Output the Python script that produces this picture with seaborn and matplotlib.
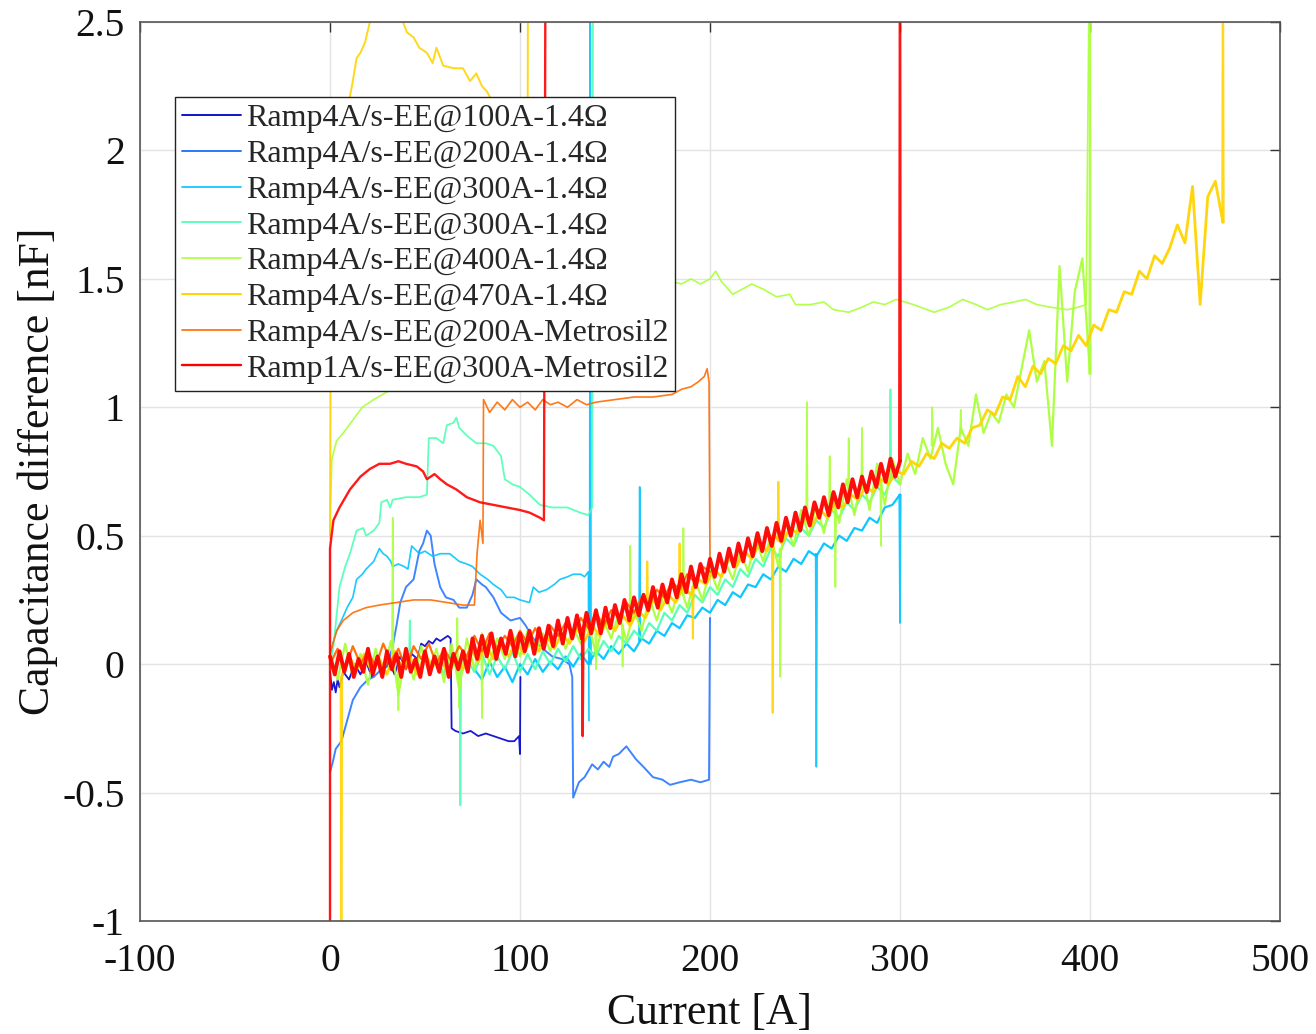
import numpy as np
import pandas as pd
import matplotlib
matplotlib.use("Agg")
import matplotlib.pyplot as plt
import seaborn as sns
from matplotlib.lines import Line2D
from matplotlib.ticker import FuncFormatter

# ---------------- data ----------------
labels = ["Ramp4A/s-EE@100A-1.4Ω", "Ramp4A/s-EE@200A-1.4Ω", "Ramp4A/s-EE@300A-1.4Ω",
          "Ramp4A/s-EE@300A-1.4Ω", "Ramp4A/s-EE@400A-1.4Ω", "Ramp4A/s-EE@470A-1.4Ω",
          "Ramp4A/s-EE@200A-Metrosil2", "Ramp1A/s-EE@300A-Metrosil2"]
colors = ["#0000cc", "#2a78ff", "#00c4ff", "#50ffb4", "#aaff3a", "#ffd400", "#ff6a00", "#ff0000"]

xticks = [-100, 0, 100, 200, 300, 400, 500]
yticks = [-1, -0.5, 0, 0.5, 1, 1.5, 2, 2.5]

# Series 1 (EE@100A)
s1_x = [0, 1, 2, 3, 4, 5, 7, 10, 13, 16, 19, 22, 25, 28, 31, 34, 37, 40, 43, 46,
        48, 50, 52, 54, 56, 58, 60, 62, 63.5, 64, 66, 70, 74, 78, 82, 86, 90, 94, 97, 99.5,
        100, 100.2]
s1_y = [-0.03, -0.10, -0.07, -0.11, -0.06, -0.09, -0.03, -0.06, 0.00, -0.04,
        0.01, -0.05, 0.02, -0.03, 0.01, -0.04, 0.03, -0.02, 0.04, 0.02,
        0.08, 0.07, 0.09, 0.08, 0.10, 0.09, 0.10, 0.11, 0.10, -0.25,
        -0.26, -0.27, -0.26, -0.28, -0.27, -0.28, -0.29, -0.30, -0.30, -0.28,
        -0.35, -0.05]

# Series 2 (EE@200A)
s2_x = [0, 1.5, 3, 6, 9, 12, 16, 20, 23, 27, 30, 33, 35, 37, 40, 44, 47, 49, 51, 53,
        55, 58, 61, 65, 68, 72, 75, 77, 80, 82, 86, 90, 95, 100, 103, 107, 112, 117, 122, 126,
        127.5, 128, 131, 134, 138, 141, 144, 147, 149, 152, 156, 159, 161, 165, 170, 175, 179,
        184, 190, 195, 199.5, 200]
s2_y = [-0.42, -0.38, -0.33, -0.30, -0.22, -0.14, -0.09, -0.06, -0.05, -0.02,
        -0.01, 0.07, 0.15, 0.24, 0.30, 0.33, 0.44, 0.47, 0.52, 0.50,
        0.39, 0.30, 0.26, 0.25, 0.22, 0.22, 0.27, 0.33, 0.31, 0.30,
        0.26, 0.20, 0.17, 0.18, 0.15, 0.10, 0.06, 0.03, 0.02, 0.00,
        -0.05, -0.52, -0.46, -0.44, -0.39, -0.41, -0.38, -0.40, -0.36, -0.35,
        -0.32, -0.35, -0.37, -0.40, -0.44, -0.45, -0.47, -0.46, -0.45, -0.46,
        -0.45, 0.18]

# Series 3 (EE@300A, first)
s3_x = [0, 1.5, 3.5, 6, 9, 12, 14, 17, 19, 23, 26, 28, 30, 32, 33, 36, 39, 41, 43, 47,
        50, 54, 58, 63, 68, 72, 75, 79, 83, 86, 90, 93, 97, 100, 105, 107, 110, 114, 118, 121,
        125, 128, 132, 134, 136, 136.3]
s3_y = [0.00, 0.08, 0.13, 0.17, 0.22, 0.26, 0.33, 0.35, 0.37, 0.40,
        0.45, 0.43, 0.42, 0.40, 0.38, 0.39, 0.38, 0.37, 0.46, 0.43,
        0.44, 0.42, 0.43, 0.43, 0.40, 0.39, 0.38, 0.35, 0.33, 0.31,
        0.29, 0.26, 0.26, 0.25, 0.24, 0.30, 0.28, 0.29, 0.31, 0.33,
        0.34, 0.35, 0.35, 0.34, 0.36, -0.22]
s3_band_x0, s3_band_step = 76, 4
s3_band_y = [-0.02, -0.06, 0.01, -0.05, -0.01, -0.07, 0.00, -0.04, 0.02, -0.03,
             0.01, -0.02, 0.03, -0.01, 0.04, 0.00, 0.05, 0.02, 0.07, 0.04,
             0.08, 0.05, 0.10, 0.08, 0.13, 0.11, 0.16, 0.14, 0.19, 0.18,
             0.22, 0.20, 0.25, 0.23, 0.28, 0.26, 0.31, 0.30, 0.35, 0.33,
             0.38, 0.36, 0.41, 0.39, 0.44, 0.42, 0.47, 0.45, 0.50, 0.48,
             0.53, 0.52, 0.57, 0.55, 0.61, 0.62, 0.66]
s3_spk_x = [137, 163, 256, 300]
s3_spk_base = [0.00, 0.09, 0.43, 0.66]
s3_spk_peak = [3.0, 0.69, -0.40, 0.16]

# Series 4 (EE@300A, second)
s4_x = [0, 1.8, 5, 8, 10.5, 14, 17.5, 19, 23, 26, 27, 30, 31.6, 33, 40, 47, 51, 52, 56, 59.6,
        61.5, 65, 66.5, 68, 72, 77, 82, 86, 90, 92, 96, 100, 105, 110.5, 117, 125, 131.6, 136,
        138, 138.5]
s4_y = [0.00, 0.07, 0.30, 0.38, 0.43, 0.52, 0.53, 0.50, 0.52, 0.55,
        0.63, 0.64, 0.61, 0.64, 0.65, 0.65, 0.66, 0.88, 0.88, 0.86,
        0.93, 0.94, 0.96, 0.92, 0.89, 0.86, 0.86, 0.85, 0.81, 0.72,
        0.70, 0.69, 0.66, 0.62, 0.61, 0.61, 0.59, 0.58, 0.61, 3.0]
s4_band_x0, s4_band_step = 56, 4
s4_band_y = [0.03, -0.04, 0.05, -0.06, 0.02, -0.03, 0.04, -0.04, 0.03, -0.02,
             0.05, -0.03, 0.04, -0.02, 0.05, 0.00, 0.06, 0.01, 0.07, 0.02,
             0.06, 0.03, 0.09, 0.05, 0.11, 0.08, 0.13, 0.10, 0.16, 0.13,
             0.20, 0.17, 0.23, 0.20, 0.27, 0.24, 0.30, 0.27, 0.33, 0.30,
             0.37, 0.34, 0.41, 0.38, 0.45, 0.42, 0.49, 0.46, 0.53, 0.50,
             0.56, 0.53, 0.60, 0.57, 0.63, 0.60, 0.66, 0.63, 0.69, 0.66,
             0.73, 0.70]
s4_spk_x = [42, 68.6, 295]
s4_spk_base = [0.00, 0.00, 0.72]
s4_spk_peak = [0.17, -0.55, 1.07]

# Series 5 (EE@400A)
s5_x = [0, 0.3, 1, 3.5, 7, 12, 17, 23, 30, 45, 70, 100, 130, 155, 175, 180, 185, 190, 195, 200,
        203, 206, 212, 217, 222, 228, 235, 242, 245, 253, 260, 265, 273, 280, 286, 292, 298,
        307, 318, 326, 333, 340, 346, 353, 360, 366, 372, 379, 388, 394, 398, 400]
s5_y = [0.49, 0.62, 0.80, 0.87, 0.90, 0.95, 1.00, 1.03, 1.06, 1.12,
        1.22, 1.32, 1.40, 1.46, 1.48, 1.49, 1.48, 1.50, 1.48, 1.50,
        1.53, 1.49, 1.44, 1.46, 1.48, 1.46, 1.43, 1.44, 1.40, 1.40,
        1.41, 1.38, 1.37, 1.39, 1.41, 1.40, 1.42, 1.40, 1.37, 1.39,
        1.42, 1.40, 1.38, 1.40, 1.41, 1.42, 1.40, 1.39, 1.38, 1.39,
        1.40, 3.0]
s5_band_x0, s5_band_step = 0, 4
s5_band_y = [0.05, -0.06, 0.08, -0.05, 0.04, -0.08, 0.06, -0.04, 0.09, -0.12,
             0.05, -0.06, 0.07, -0.03, 0.06, -0.07, 0.08, -0.10, 0.10, -0.02,
             0.12, 0.00, 0.10, 0.02, 0.12, 0.03, 0.13, 0.04, 0.12, 0.05,
             0.15, 0.06, 0.14, 0.08, 0.16, 0.04, 0.17, 0.10, 0.20, 0.09,
             0.21, 0.13, 0.26, 0.17, 0.28, 0.20, 0.31, 0.22, 0.33, 0.25,
             0.37, 0.29, 0.40, 0.33, 0.44, 0.36, 0.49, 0.40, 0.50, 0.38,
             0.55, 0.46, 0.60, 0.50, 0.62, 0.51, 0.66, 0.55, 0.72, 0.58,
             0.74, 0.60, 0.78, 0.62, 0.80, 0.70, 0.82, 0.74, 0.88, 0.80,
             0.92, 0.78, 0.70, 0.92, 0.85, 1.05, 0.90, 0.98, 0.94, 1.05,
             1.00, 1.15, 1.30, 1.10, 1.18, 0.85, 1.55, 1.10, 1.45, 1.58,
             1.13]
s5_spk_x = [33, 36, 67, 68, 80, 140, 154, 158, 186, 237, 251, 263, 266, 273, 280, 290, 317, 332, 400]
s5_spk_base = [0.02, 0.00, 0.00, 0.00, 0.05, 0.12, 0.15, 0.15, 0.27, 0.45, 0.55, 0.60, 0.60,
               0.65, 0.68, 0.72, 0.85, 0.90, 1.13]
s5_spk_peak = [0.57, -0.18, 0.18, -0.17, -0.21, -0.02, -0.01, 0.46, 0.53, -0.05, 1.02, 0.81,
               0.30, 0.88, 0.92, 0.46, 1.00, 0.99, 3.0]

# Series 6 (EE@470A)
s6_x = [0, 0.3, 2, 5, 8, 10.5, 12, 14, 16, 18.4, 21, 25, 30, 35, 38.4, 40.5, 44, 47, 51, 54,
        56, 59.6, 65, 70, 73.7, 77, 80, 82.6, 84, 90, 97, 104, 104.3]
s6_y = [0.50, 1.20, 1.80, 2.05, 2.15, 2.21, 2.27, 2.36, 2.38, 2.42,
        2.50, 2.58, 2.62, 2.57, 2.50, 2.46, 2.44, 2.40, 2.38, 2.34,
        2.40, 2.33, 2.32, 2.32, 2.27, 2.30, 2.25, 2.23, 2.21, 2.15,
        2.08, 2.00, 3.0]
s6_band_x0, s6_band_step = 6, 4
s6_band_y = [-0.05, 0.03, -0.02, 0.04, -0.03, 0.02, -0.04, 0.05, -0.02, 0.03,
             -0.04, 0.04, -0.01, 0.03, -0.04, 0.02, -0.02, 0.06, 0.01, 0.08,
             0.02, 0.07, 0.03, 0.09, 0.04, 0.10, 0.05, 0.11, 0.06, 0.12,
             0.08, 0.14, 0.09, 0.15, 0.11, 0.17, 0.13, 0.19, 0.15, 0.21,
             0.18, 0.25, 0.21, 0.27, 0.24, 0.30, 0.27, 0.33, 0.31, 0.37,
             0.34, 0.41, 0.38, 0.44, 0.41, 0.47, 0.44, 0.50, 0.47, 0.53,
             0.51, 0.57, 0.54, 0.60, 0.57, 0.63, 0.61, 0.66, 0.64, 0.69,
             0.67, 0.72, 0.70, 0.75, 0.74, 0.79, 0.77, 0.82, 0.80, 0.86,
             0.84, 0.88, 0.86, 0.92, 0.93, 0.99, 0.97, 1.04, 1.03, 1.12,
             1.08, 1.16, 1.13, 1.19, 1.17, 1.24, 1.22, 1.28, 1.24, 1.32,
             1.30, 1.38, 1.37, 1.45, 1.44, 1.53, 1.50, 1.59, 1.56, 1.62,
             1.71, 1.64, 1.86, 1.40, 1.82, 1.88, 1.72]
s6_spk_x = [6, 167, 184, 191, 233, 236, 470]
s6_spk_base = [-0.05, 0.22, 0.28, 0.30, 0.48, 0.48, 1.72]
s6_spk_peak = [-1.5, 0.40, 0.47, 0.10, -0.19, 0.71, 3.0]

# Series 7 (EE@200A Metrosil)
s7_x = [0, 3.5, 7, 12, 19, 26, 35, 44, 53, 61.5, 70, 76, 77.4, 79, 80.5, 80.8, 84, 88, 92, 96,
        100, 104, 108, 112, 116, 120, 125, 130, 135, 140, 150, 160, 170, 180, 185, 190, 194, 197,
        198.5, 199.5, 200]
s7_y = [0.04, 0.13, 0.17, 0.20, 0.22, 0.23, 0.24, 0.25, 0.25, 0.24,
        0.23, 0.23, 0.43, 0.56, 0.47, 1.03, 0.98, 1.02, 0.99, 1.03,
        1.00, 1.02, 0.99, 1.03, 1.01, 1.02, 1.00, 1.03, 1.01, 1.02,
        1.03, 1.04, 1.04, 1.05, 1.07, 1.08, 1.10, 1.12, 1.15, 1.10,
        0.38]
s7_band_x0, s7_band_step = 0, 4
s7_band_y = [0.00, 0.06, -0.02, 0.07, 0.00, 0.05, -0.01, 0.08, 0.01, 0.06,
             -0.02, 0.07, 0.02, 0.08, 0.00, 0.06, 0.01, 0.07, 0.03, 0.11,
             0.05, 0.12, 0.06, 0.11, 0.07, 0.13, 0.08, 0.14, 0.09, 0.15,
             0.11, 0.16, 0.12, 0.18, 0.14, 0.20, 0.15, 0.21, 0.18, 0.24,
             0.20, 0.26, 0.23, 0.29, 0.26, 0.32, 0.29, 0.35, 0.32, 0.38,
             0.36]

# Series 8 (1A/s EE@300A Metrosil)
s8_x = [0, 0, 1.8, 5, 10.5, 16, 21, 26, 31.6, 36, 40, 45.6, 49, 51, 55, 58, 61.5, 66.5, 72, 79,
        86, 93, 100, 105, 110.5, 112.6, 113.5]
s8_y = [-1.5, 0.45, 0.56, 0.61, 0.68, 0.73, 0.76, 0.78, 0.78, 0.79,
        0.78, 0.77, 0.75, 0.72, 0.74, 0.72, 0.70, 0.68, 0.65, 0.63,
        0.62, 0.61, 0.60, 0.59, 0.57, 0.56, 3.0]
s8_band_x0, s8_band_step = 0, 2.5
s8_band_y = [0.03, -0.04, 0.05, -0.03, 0.04, -0.05, 0.02, -0.03, 0.06, -0.04,
             0.03, -0.05, 0.05, -0.02, 0.04, -0.05, 0.06, -0.03, 0.02, -0.05,
             0.05, -0.04, 0.03, -0.03, 0.06, -0.05, 0.04, -0.02, 0.05, -0.03,
             0.10, 0.02, 0.11, 0.03, 0.12, 0.02, 0.10, 0.04, 0.13, 0.03,
             0.12, 0.05, 0.13, 0.04, 0.14, 0.06, 0.15, 0.07, 0.17, 0.08,
             0.18, 0.10, 0.19, 0.10, 0.20, 0.12, 0.21, 0.12, 0.22, 0.14,
             0.23, 0.16, 0.25, 0.17, 0.26, 0.19, 0.27, 0.21, 0.30, 0.22,
             0.31, 0.24, 0.33, 0.26, 0.35, 0.28, 0.38, 0.30, 0.39, 0.32,
             0.41, 0.34, 0.43, 0.36, 0.45, 0.38, 0.47, 0.40, 0.49, 0.42,
             0.51, 0.44, 0.53, 0.46, 0.55, 0.48, 0.57, 0.50, 0.59, 0.52,
             0.61, 0.54, 0.63, 0.57, 0.65, 0.58, 0.67, 0.61, 0.70, 0.63,
             0.72, 0.65, 0.73, 0.67, 0.75, 0.69, 0.78, 0.71, 0.80, 0.73,
             0.79]
s8_spk_x = [133, 300]
s8_spk_base = [0.12, 0.79]
s8_spk_peak = [-0.28, 3.0]

# ---------------- assemble ----------------
def band(x0, step, ys):
    return [x0 + step * i for i in range(len(ys))], list(ys)

def spikes(xs, bases, peaks):
    segs = []
    for x, b, p in zip(xs, bases, peaks):
        segs.append(([x - 0.4, x, x + 0.4], [b, p, b]))
    return segs

# (curve/spike segments, band segments)
series_segments = [
    ([(s1_x, s1_y)], []),
    ([(s2_x, s2_y)], []),
    ([(s3_x, s3_y)] + spikes(s3_spk_x, s3_spk_base, s3_spk_peak), [band(s3_band_x0, s3_band_step, s3_band_y)]),
    ([(s4_x, s4_y)] + spikes(s4_spk_x, s4_spk_base, s4_spk_peak), [band(s4_band_x0, s4_band_step, s4_band_y)]),
    ([(s5_x, s5_y)] + spikes(s5_spk_x, s5_spk_base, s5_spk_peak), [band(s5_band_x0, s5_band_step, s5_band_y)]),
    ([(s6_x, s6_y)] + spikes(s6_spk_x, s6_spk_base, s6_spk_peak), [band(s6_band_x0, s6_band_step, s6_band_y)]),
    ([(s7_x, s7_y)], [band(s7_band_x0, s7_band_step, s7_band_y)]),
    ([(s8_x, s8_y)] + spikes(s8_spk_x, s8_spk_base, s8_spk_peak), [band(s8_band_x0, s8_band_step, s8_band_y)]),
]
curve_w = [1.3, 1.4, 1.2, 1.3, 1.2, 1.4, 1.2, 1.7]
band_w = [1.2, 1.2, 1.6, 1.6, 1.6, 2.0, 1.6, 2.8]

# ---------------- plot ----------------
sns.set_style("white")
plt.rcParams["font.family"] = ["Liberation Serif", "DejaVu Serif"]
plt.rcParams["axes.unicode_minus"] = False

fig = plt.figure(figsize=(13.16, 10.34), dpi=100)
ax = fig.add_axes([0.1064, 0.1093, 0.8662, 0.8694])

def to_df(segs):
    rows = []
    for j, (xs, ys) in enumerate(segs):
        assert len(xs) == len(ys), (j, len(xs), len(ys))
        for x, y in zip(xs, ys):
            rows.append((x, y, j))
    return pd.DataFrame(rows, columns=["I", "C", "seg"])

for k, (curves, bands) in enumerate(series_segments):
    if bands:
        sns.lineplot(data=to_df(bands), x="I", y="C", units="seg", estimator=None, sort=False,
                     color=colors[k], lw=band_w[k], alpha=0.95, legend=False, ax=ax)
    sns.lineplot(data=to_df(curves), x="I", y="C", units="seg", estimator=None, sort=False,
                 color=colors[k], lw=curve_w[k], alpha=0.9, legend=False, ax=ax)

ax.set_xlim(-100, 500)
ax.set_ylim(-1, 2.5)
ax.set_xticks(xticks)
ax.set_yticks(yticks)
ax.yaxis.set_major_formatter(FuncFormatter(lambda v, p: f"{v:g}"))
ax.xaxis.set_major_formatter(FuncFormatter(lambda v, p: f"{v:g}"))
ax.grid(True, color="#e3e3e3", lw=1)
ax.set_axisbelow(True)
for s in ax.spines.values():
    s.set_color("#555555")
    s.set_linewidth(1.2)
ax.tick_params(axis="both", direction="in", top=True, right=True, length=7, width=1,
               color="#333333", labelsize=28.5, labelcolor="#111111")
ax.tick_params(axis="x", pad=16)
ax.tick_params(axis="y", pad=11)
ax.set_xlabel("Current [A]", fontsize=31.5, labelpad=9, color="#111111")
ax.set_ylabel("Capacitance difference [nF]", fontsize=31.5, labelpad=3, color="#111111")

handles = [Line2D([0], [0], color=c, lw=w) for c, w in zip(colors, curve_w)]
leg = ax.legend(handles, labels, loc="upper left", bbox_to_anchor=(0.0307, 0.9166),
                borderaxespad=0, fontsize=23, frameon=True, fancybox=False, framealpha=1,
                edgecolor="#222222", handlelength=1.85, handletextpad=0.15, labelspacing=0.2,
                borderpad=0.22)
leg.get_frame().set_linewidth(1.0)

fig.savefig("out.png", dpi=100)
